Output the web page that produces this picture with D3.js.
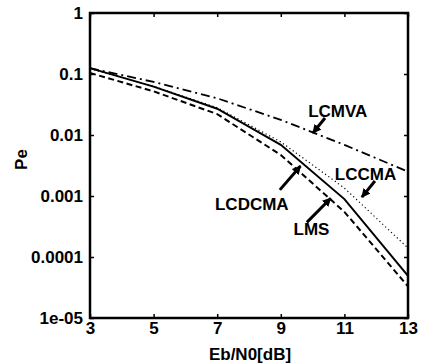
<!DOCTYPE html>
<meta charset="utf-8">
<head>
	<script src="https://d3js.org/d3.v7.min.js"></script>
	<style>
		body { margin: 0; background: #fff; }
		text { font-family: "Liberation Sans", Arial, sans-serif; font-weight: bold; font-size: 17px; fill: #000; }
		.axis path { display: none; }
		.axis line { stroke: #000; stroke-width: 1.5; }
		.curve { fill: none; stroke: #000; }
	</style>
</head>
<body>
	<svg id="svg"></svg>
</body>
<script>
	var ebno = [3, 5, 7, 9, 11, 13];
	var lcmva  = [0.125, 0.074, 0.040, 0.0177, 0.0069, 0.0025];
	var lccma  = [0.122, 0.063, 0.028, 0.0077, 0.00135, 0.00014];
	var lcdcma = [0.125, 0.062, 0.027, 0.0069, 0.00089, 0.000049];
	var lms    = [0.104, 0.052, 0.022, 0.0047, 0.00055, 0.000033];

	var xTicks = [3, 5, 7, 9, 11, 13];
	var yTicks = [1, 0.1, 0.01, 0.001, 0.0001, 0.00001];
	var yTickLabels = ["1", "0.1", "0.01", "0.001", "0.0001", "1e-05"];

	// label text position and arrow (from -> to) in data units
	var notes = [
		{ name: "LCMVA",  tx: 9.86,  ty: 0.0197,  ax: [10.39, 0.019],   bx: [10.01, 0.0108] },
		{ name: "LCCMA",  tx: 10.70, ty: 0.0018,  ax: [11.96, 0.00176], bx: [11.55, 0.00096] },
		{ name: "LCDCMA", tx: 6.93,  ty: 0.00059, ax: [8.97, 0.00126],  bx: [9.62, 0.0031] },
		{ name: "LMS",    tx: 9.4,   ty: 0.00023, ax: [9.82, 0.00037],  bx: [10.57, 0.00092] }
	];

	var width = 421, height = 364;
	var margin = { left: 90, right: 13, top: 13, bottom: 46 };
	var w = width - margin.left - margin.right;
	var h = height - margin.top - margin.bottom;

	var svg = d3.select("#svg")
		.attr("width", width)
		.attr("height", height)
		.append("g")
		.attr("transform", "translate(" + margin.left + "," + margin.top + ")");

	var x = d3.scaleLinear().domain([3, 13]).range([0, w]);
	var y = d3.scaleLog().domain([1e-5, 1]).range([h, 0]);

	// axes with inward ticks
	svg.append("g").attr("class", "axis")
		.call(d3.axisLeft(y).tickValues(yTicks).tickSize(-4).tickPadding(7)
			.tickFormat((d, i) => yTickLabels[i]));
	svg.append("g").attr("class", "axis")
		.attr("transform", "translate(" + w + ",0)")
		.call(d3.axisRight(y).tickValues(yTicks).tickSize(-4).tickFormat(""));
	svg.append("g").attr("class", "axis")
		.attr("transform", "translate(0," + h + ")")
		.call(d3.axisBottom(x).tickValues(xTicks).tickSize(-4).tickPadding(4));
	svg.append("g").attr("class", "axis")
		.call(d3.axisTop(x).tickValues(xTicks).tickSize(-4).tickFormat(""));

	// frame
	svg.append("rect")
		.attr("width", w).attr("height", h)
		.attr("fill", "none").attr("stroke", "#000").attr("stroke-width", 2.5);

	var line = d3.line().x((d, i) => x(ebno[i])).y(d => y(d));

	svg.append("path").attr("class", "curve").attr("d", line(lcmva))
		.attr("stroke-width", 1.8).attr("stroke-dasharray", "9,4,2,4");
	svg.append("path").attr("class", "curve").attr("d", line(lccma))
		.attr("stroke-width", 1.2).attr("stroke-dasharray", "1.2,2.8");
	svg.append("path").attr("class", "curve").attr("d", line(lcdcma))
		.attr("stroke-width", 2);
	svg.append("path").attr("class", "curve").attr("d", line(lms))
		.attr("stroke-width", 2).attr("stroke-dasharray", "6,3.5");

	// arrowhead
	svg.append("defs").append("marker")
		.attr("id", "head")
		.attr("viewBox", "0 0 10 10")
		.attr("refX", 9).attr("refY", 5)
		.attr("markerUnits", "userSpaceOnUse")
		.attr("markerWidth", 9).attr("markerHeight", 9)
		.attr("orient", "auto")
		.append("path").attr("d", "M0,0L10,5L0,10Z").attr("fill", "#000");

	var g = svg.selectAll(".note").data(notes).enter().append("g").attr("class", "note");
	g.append("line")
		.attr("x1", d => x(d.ax[0])).attr("y1", d => y(d.ax[1]))
		.attr("x2", d => x(d.bx[0])).attr("y2", d => y(d.bx[1]))
		.attr("stroke", "#000").attr("stroke-width", 3)
		.attr("marker-end", "url(#head)");
	g.append("text")
		.attr("x", d => x(d.tx)).attr("y", d => y(d.ty))
		.text(d => d.name);

	// axis titles
	svg.append("text")
		.attr("x", w / 2 + 1).attr("y", h + 42)
		.attr("text-anchor", "middle")
		.text("Eb/N0[dB]");
	svg.append("text")
		.attr("transform", "translate(-63," + (h / 2 - 6) + ") rotate(-90)")
		.attr("text-anchor", "middle")
		.text("Pe");
</script>
